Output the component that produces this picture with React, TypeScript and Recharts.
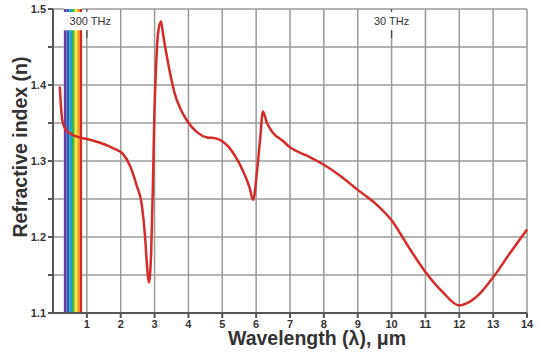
import React from 'react';
import {
  LineChart,
  Line,
  XAxis,
  YAxis,
  ReferenceArea,
  ReferenceLine,
} from 'recharts';

// wavelength in micrometres
const wavelengths = [
  0.2, 0.23, 0.27, 0.33, 0.41, 0.55, 0.71, 1.0, 1.39, 1.77, 2.07, 2.27, 2.47, 2.63, 2.72, 2.78,
  2.83, 2.9, 2.95, 2.99, 3.05, 3.1, 3.19, 3.25, 3.37, 3.46, 3.6, 3.75, 3.96, 4.25, 4.55, 4.79,
  5.0, 5.2, 5.4, 5.6, 5.8, 5.91, 6.03, 6.12, 6.2, 6.32, 6.5, 6.8, 7.0, 7.5, 8.0, 8.5, 9.0, 9.5,
  10.0, 10.5, 11.0, 11.5, 12.0, 12.5, 13.0, 13.5, 14.0,
];
const refractiveIndex = [
  1.398, 1.375, 1.355, 1.345, 1.34, 1.335, 1.332, 1.329, 1.324, 1.317, 1.309, 1.294, 1.268, 1.24,
  1.2, 1.16, 1.14, 1.18, 1.266, 1.354, 1.43, 1.467, 1.484, 1.467, 1.436, 1.415, 1.388, 1.37,
  1.353, 1.338, 1.331, 1.33, 1.326, 1.318, 1.305, 1.288, 1.266, 1.249, 1.288, 1.33, 1.365, 1.35,
  1.337, 1.326, 1.318, 1.307, 1.295, 1.28, 1.262, 1.245, 1.222, 1.187, 1.154, 1.128, 1.11,
  1.121, 1.147, 1.179, 1.21,
];

const xTicks = [1, 2, 3, 4, 5, 6, 7, 8, 9, 10, 11, 12, 13, 14];
const yTicks = [1.1, 1.15, 1.2, 1.25, 1.3, 1.35, 1.4, 1.45, 1.5];
const yTickLabels = ['1.1', '', '1.2', '', '1.3', '', '1.4', '', '1.5'];

// visible band stripes (edges in µm) and colours
const bandEdges = [0.32, 0.4, 0.48, 0.56, 0.64, 0.72, 0.79, 0.86];
const bandColors = ['#6a3fa0', '#2f5fb8', '#1aa3c8', '#3bb24a', '#f2e52b', '#f39a1e', '#d8262a'];

const freqLabels = ['300  THz', '30 THz'];
const freqPositions = [1, 10];
const labelBottom = 1.472;
const labelTop = 1.496;

const data = wavelengths.map((w, i) => ({ w, n: refractiveIndex[i] }));

const tickStyle = { fontSize: 11, fontWeight: 700, fill: '#333' };
const gridColor = '#9a9a9a';

// vertical grid pieces; lines under a frequency label stop below it
const vSegments = xTicks.flatMap((x) =>
  freqPositions.includes(x) ? [[x, 1.1, labelBottom]] : [[x, 1.1, 1.5]],
);
// horizontal grid pieces, interrupted by the visible band
const hSegments = yTicks.flatMap((y) => [
  [y, 0, bandEdges[0]],
  [y, bandEdges[bandEdges.length - 1], 14],
]);

export default function App() {
  return (
    <div style={{ position: 'absolute', left: 0, top: 0, fontFamily: 'Liberation Sans, Arial, sans-serif' }}>
      <LineChart width={541} height={355} data={data} margin={{ top: 9, right: 14, bottom: 12, left: 0 }}>
        {bandColors.map((c, i) => (
          <ReferenceArea
            key={'b' + i}
            x1={bandEdges[i]}
            x2={bandEdges[i + 1]}
            y1={1.1}
            y2={labelBottom}
            fill={c}
            fillOpacity={1}
            stroke="none"
            ifOverflow="visible"
          />
        ))}
        {bandColors.map((c, i) => (
          <ReferenceArea
            key={'bt' + i}
            x1={bandEdges[i]}
            x2={bandEdges[i + 1]}
            y1={labelTop}
            y2={1.5}
            fill={c}
            fillOpacity={1}
            stroke="none"
            ifOverflow="visible"
          />
        ))}
        {freqLabels.map((t, i) => (
          <ReferenceArea
            key={'f' + i}
            x1={i === 0 ? 0.3 : freqPositions[i] - 0.7}
            x2={i === 0 ? 1.9 : freqPositions[i] + 0.7}
            y1={labelBottom}
            y2={labelTop}
            fill="none"
            stroke="none"
            ifOverflow="visible"
            label={{ value: t, position: 'center', fill: '#333', fontSize: 11 }}
          />
        ))}
        {vSegments.map(([x, y1, y2], i) => (
          <ReferenceLine
            key={'gx' + i}
            segment={[
              { x, y: y1 },
              { x, y: y2 },
            ]}
            stroke={gridColor}
            strokeWidth={1.5}
            ifOverflow="visible"
          />
        ))}
        {hSegments.map(([y, x1, x2], i) => (
          <ReferenceLine
            key={'gy' + i}
            segment={[
              { x: x1, y },
              { x: x2, y },
            ]}
            stroke={gridColor}
            strokeWidth={1.5}
            ifOverflow="visible"
          />
        ))}
        {freqPositions.map((p, i) => (
          <ReferenceLine
            key={'t' + i}
            segment={[
              { x: p, y: labelBottom },
              { x: p, y: labelBottom - 0.01 },
            ]}
            stroke="#444"
            strokeWidth={1.2}
            ifOverflow="visible"
          />
        ))}
        {freqPositions.map((p, i) => (
          <ReferenceLine
            key={'tt' + i}
            segment={[
              { x: p, y: 1.5 },
              { x: p, y: labelTop },
            ]}
            stroke="#444"
            strokeWidth={1.2}
            ifOverflow="visible"
          />
        ))}
        <XAxis
          type="number"
          dataKey="w"
          domain={[0, 14]}
          ticks={xTicks}
          height={30}
          tickSize={5}
          tick={tickStyle}
          stroke="#555"
          strokeWidth={2}
          label={{
            value: 'Wavelength (λ), μm',
            position: 'insideBottom',
            offset: -2,
            dx: 27,
            fontSize: 19.5,
            fontWeight: 700,
            fill: '#333',
          }}
        />
        <YAxis
          type="number"
          domain={[1.1, 1.5]}
          ticks={yTicks}
          width={53}
          tickSize={5}
          tick={tickStyle}
          tickFormatter={(v: number, i: number) => yTickLabels[i]}
          stroke="#555"
          strokeWidth={2}
          label={{
            value: 'Refractive index (n)',
            angle: -90,
            position: 'center',
            dx: -6,
            dy: -14,
            fontSize: 19.5,
            fontWeight: 700,
            fill: '#333',
          }}
        />
        <Line
          type="monotone"
          dataKey="n"
          stroke="#d42b2b"
          strokeWidth={2.5}
          dot={false}
          isAnimationActive={false}
        />
      </LineChart>
    </div>
  );
}
